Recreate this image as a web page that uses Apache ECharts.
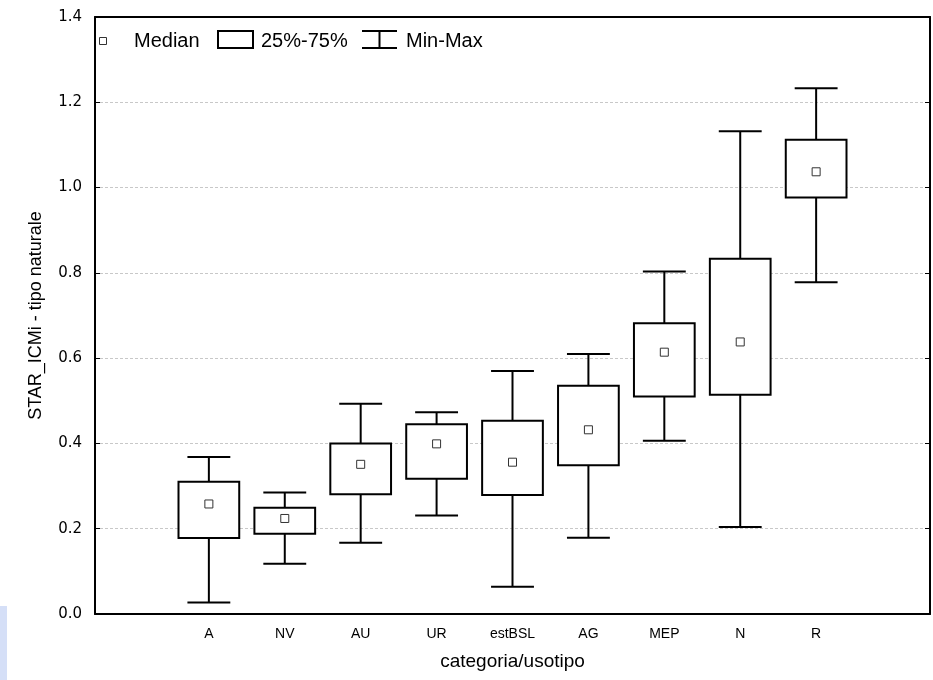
<!DOCTYPE html>
<html>
<head>
<meta charset="utf-8">
<script src="https://cdn.jsdelivr.net/npm/echarts@6/dist/echarts.min.js"></script>
<style>
  html, body { margin: 0; padding: 0; background: #fff; }
  #chart { width: 933px; height: 680px; }
</style>
</head>
<body>
<div id="chart"></div>
<script>
// categorie (prima e ultima vuote, come nel grafico originale)
var categories = [' ', 'A', 'NV', 'AU', 'UR', 'estBSL', 'AG', 'MEP', 'N', 'R', '  ']
var boxCats = ['A', 'NV', 'AU', 'UR', 'estBSL', 'AG', 'MEP', 'N', 'R']
var mins    = [0.027, 0.118, 0.167, 0.231, 0.064, 0.179, 0.406, 0.204, 0.778]
var q1s     = [0.178, 0.188, 0.281, 0.317, 0.279, 0.349, 0.510, 0.514, 0.977]
var medians = [0.258, 0.224, 0.351, 0.399, 0.356, 0.432, 0.614, 0.638, 1.037]
var q3s     = [0.310, 0.249, 0.400, 0.445, 0.453, 0.535, 0.682, 0.833, 1.112]
var maxs    = [0.368, 0.285, 0.493, 0.473, 0.570, 0.610, 0.803, 1.132, 1.233]
var yTicks  = [0, 0.2, 0.4, 0.6, 0.8, 1.0, 1.2, 1.4]

var boxData = boxCats.map(function (c, i) {
  return [categories.indexOf(c), mins[i], q1s[i], medians[i], q3s[i], maxs[i]]
})

var font = '"Liberation Sans", Arial, sans-serif'

function renderBox(params, api) {
  var x = api.value(0)
  var pMin = api.coord([x, api.value(1)])
  var pQ1 = api.coord([x, api.value(2)])
  var pMed = api.coord([x, api.value(3)])
  var pQ3 = api.coord([x, api.value(4)])
  var pMax = api.coord([x, api.value(5)])
  var band = api.size([1, 0])[0]
  var boxW = band * 0.8
  var capW = band * 0.565
  var cx = pMed[0]
  var line = { stroke: '#000', lineWidth: 2 }
  return {
    type: 'group',
    children: [
      { type: 'line', shape: { x1: cx, y1: pMax[1], x2: cx, y2: pMin[1] }, style: line },
      { type: 'line', shape: { x1: cx - capW / 2, y1: pMax[1], x2: cx + capW / 2, y2: pMax[1] }, style: line },
      { type: 'line', shape: { x1: cx - capW / 2, y1: pMin[1], x2: cx + capW / 2, y2: pMin[1] }, style: line },
      {
        type: 'rect',
        shape: { x: cx - boxW / 2, y: pQ3[1], width: boxW, height: pQ1[1] - pQ3[1] },
        style: { fill: '#fff', stroke: '#000', lineWidth: 2 }
      },
      {
        type: 'rect',
        shape: { x: cx - 4, y: pMed[1] - 4, width: 8, height: 8 },
        style: { fill: '#fff', stroke: '#333', lineWidth: 1 }
      }
    ]
  }
}

var chart = echarts.init(document.getElementById('chart'))
chart.setOption({
  animation: false,
  backgroundColor: '#fff',
  grid: { left: 95, right: 3, top: 17, bottom: 66 },
  xAxis: [{
    type: 'category',
    data: categories,
    boundaryGap: true,
    name: 'categoria/usotipo',
    nameLocation: 'middle',
    nameGap: 38,
    nameTextStyle: { fontFamily: font, fontSize: 19, color: '#000' },
    axisLine: { lineStyle: { color: '#000', width: 2 } },
    axisTick: { inside: true, alignWithLabel: true, length: 5, lineStyle: { color: '#000', width: 1 } },
    axisLabel: { margin: 13, fontFamily: font, fontSize: 14, color: '#000', interval: 0 },
    splitLine: { show: false }
  }, {
    type: 'category',
    data: categories,
    position: 'top',
    boundaryGap: true,
    axisLine: { onZero: false, lineStyle: { color: '#000', width: 2 } },
    axisTick: { inside: true, alignWithLabel: true, length: 5, lineStyle: { color: '#000', width: 1 } },
    axisLabel: { show: false },
    splitLine: { show: false }
  }],
  yAxis: [{
    type: 'value',
    min: 0,
    max: 1.4,
    interval: 0.2,
    name: 'STAR_ICMi - tipo naturale',
    nameLocation: 'middle',
    nameGap: 50,
    nameTextStyle: { fontFamily: font, fontSize: 18, color: '#000' },
    axisLine: { show: true, lineStyle: { color: '#000', width: 2 } },
    axisTick: { show: true, inside: true, length: 5, lineStyle: { color: '#000', width: 1 } },
    axisLabel: {
      margin: 13,
      fontFamily: '"DejaVu Sans", sans-serif',
      fontSize: 15,
      color: '#000',
      formatter: function (v) {
        var t = yTicks.find(function (k) { return Math.abs(k - v) < 1e-6 })
        return t === undefined ? '' : t.toFixed(1)
      }
    },
    splitLine: { show: true, lineStyle: { color: '#c8c8c8', width: 1, type: [3, 2] } }
  }, {
    type: 'value',
    position: 'right',
    min: 0,
    max: 1.4,
    interval: 0.2,
    axisLine: { show: true, onZero: false, lineStyle: { color: '#000', width: 2 } },
    axisTick: { show: true, inside: true, length: 5, lineStyle: { color: '#000', width: 1 } },
    axisLabel: { show: false },
    splitLine: { show: false }
  }],
  series: [{
    type: 'custom',
    name: 'boxplot',
    xAxisIndex: 0,
    yAxisIndex: 0,
    renderItem: renderBox,
    encode: { x: 0, y: [1, 2, 3, 4, 5] },
    data: boxData,
    z: 10
  }],
  graphic: [
    { type: 'rect', left: 0, top: 606, shape: { width: 7, height: 74 }, style: { fill: '#d5dff7' } },
    { type: 'rect', shape: { x: 99.5, y: 37.5, width: 7, height: 7 }, style: { fill: '#fff', stroke: '#333', lineWidth: 1 }, z: 20 },
    { type: 'text', x: 134, y: 41, style: { text: 'Median', font: '20px ' + font, fill: '#000', verticalAlign: 'middle' }, z: 20 },
    { type: 'rect', shape: { x: 218, y: 31, width: 35, height: 17 }, style: { fill: '#fff', stroke: '#000', lineWidth: 2 }, z: 20 },
    { type: 'text', x: 261, y: 41, style: { text: '25%-75%', font: '20px ' + font, fill: '#000', verticalAlign: 'middle' }, z: 20 },
    {
      type: 'polyline',
      shape: { points: [[362, 31], [397, 31]] },
      style: { stroke: '#000', lineWidth: 2 }, z: 20
    },
    {
      type: 'polyline',
      shape: { points: [[379.5, 31], [379.5, 48]] },
      style: { stroke: '#000', lineWidth: 2 }, z: 20
    },
    {
      type: 'polyline',
      shape: { points: [[362, 48], [397, 48]] },
      style: { stroke: '#000', lineWidth: 2 }, z: 20
    },
    { type: 'text', x: 406, y: 41, style: { text: 'Min-Max', font: '20px ' + font, fill: '#000', verticalAlign: 'middle' }, z: 20 }
  ]
})
</script>
</body>
</html>
